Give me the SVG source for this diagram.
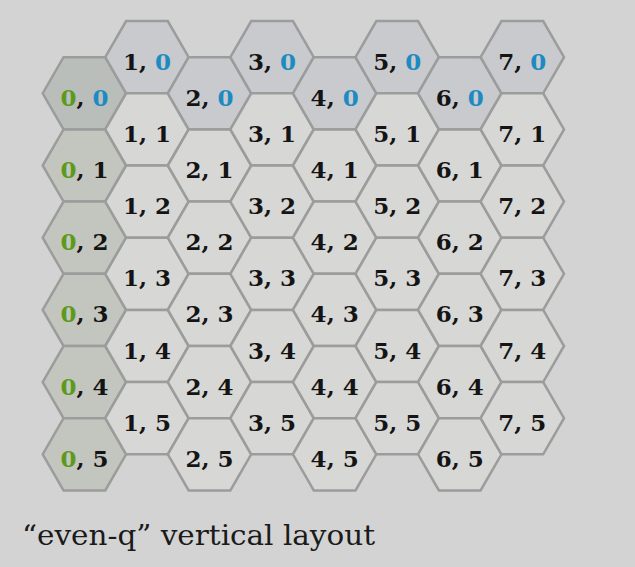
<svg xmlns="http://www.w3.org/2000/svg" xmlns:xlink="http://www.w3.org/1999/xlink" width="635" height="567" viewBox="0 0 635 567">
<style>
.h{fill:#d7d7d5;stroke:#9c9c9c;stroke-width:2.5}
.q{fill:#c3c6be}
.r{fill:#c8cacd}
.qr{fill:#babebb}
.t{font-family:"DejaVu Serif","Liberation Serif",serif;font-weight:bold;font-size:23px;fill:#141414;text-anchor:middle}
.g{fill:#5c9a1c}
.b{fill:#1d8bc2}
.title{font-family:"DejaVu Serif","Liberation Serif",serif;font-size:28px;fill:#1a1a1a}
</style>
<defs>
<polygon id="hex" points="-41.7,0 -20.85,-36.1 20.85,-36.1 41.7,0 20.85,36.1 -20.85,36.1"/>
</defs>
<rect width="635" height="567" fill="#d3d3d3"/>
<g id="hexes">
<g id="h0_0" transform="translate(84.4,93.3)"><use xlink:href="#hex" class="h qr"/><text class="t" y="12.5"><tspan class="g">0</tspan>, <tspan class="b">0</tspan></text></g>
<g id="h0_1" transform="translate(84.4,165.5)"><use xlink:href="#hex" class="h q"/><text class="t" y="12.5"><tspan class="g">0</tspan>, 1</text></g>
<g id="h0_2" transform="translate(84.4,237.7)"><use xlink:href="#hex" class="h q"/><text class="t" y="12.5"><tspan class="g">0</tspan>, 2</text></g>
<g id="h0_3" transform="translate(84.4,309.9)"><use xlink:href="#hex" class="h q"/><text class="t" y="12.5"><tspan class="g">0</tspan>, 3</text></g>
<g id="h0_4" transform="translate(84.4,382.1)"><use xlink:href="#hex" class="h q"/><text class="t" y="12.5"><tspan class="g">0</tspan>, 4</text></g>
<g id="h0_5" transform="translate(84.4,454.3)"><use xlink:href="#hex" class="h q"/><text class="t" y="12.5"><tspan class="g">0</tspan>, 5</text></g>

<g id="h1_0" transform="translate(146.96,57.2)"><use xlink:href="#hex" class="h r"/><text class="t" y="12.5">1, <tspan class="b">0</tspan></text></g>
<g id="h1_1" transform="translate(146.96,129.4)"><use xlink:href="#hex" class="h"/><text class="t" y="12.5">1, 1</text></g>
<g id="h1_2" transform="translate(146.96,201.6)"><use xlink:href="#hex" class="h"/><text class="t" y="12.5">1, 2</text></g>
<g id="h1_3" transform="translate(146.96,273.8)"><use xlink:href="#hex" class="h"/><text class="t" y="12.5">1, 3</text></g>
<g id="h1_4" transform="translate(146.96,346)"><use xlink:href="#hex" class="h"/><text class="t" y="12.5">1, 4</text></g>
<g id="h1_5" transform="translate(146.96,418.2)"><use xlink:href="#hex" class="h"/><text class="t" y="12.5">1, 5</text></g>

<g id="h2_0" transform="translate(209.52,93.3)"><use xlink:href="#hex" class="h r"/><text class="t" y="12.5">2, <tspan class="b">0</tspan></text></g>
<g id="h2_1" transform="translate(209.52,165.5)"><use xlink:href="#hex" class="h"/><text class="t" y="12.5">2, 1</text></g>
<g id="h2_2" transform="translate(209.52,237.7)"><use xlink:href="#hex" class="h"/><text class="t" y="12.5">2, 2</text></g>
<g id="h2_3" transform="translate(209.52,309.9)"><use xlink:href="#hex" class="h"/><text class="t" y="12.5">2, 3</text></g>
<g id="h2_4" transform="translate(209.52,382.1)"><use xlink:href="#hex" class="h"/><text class="t" y="12.5">2, 4</text></g>
<g id="h2_5" transform="translate(209.52,454.3)"><use xlink:href="#hex" class="h"/><text class="t" y="12.5">2, 5</text></g>

<g id="h3_0" transform="translate(272.08,57.2)"><use xlink:href="#hex" class="h r"/><text class="t" y="12.5">3, <tspan class="b">0</tspan></text></g>
<g id="h3_1" transform="translate(272.08,129.4)"><use xlink:href="#hex" class="h"/><text class="t" y="12.5">3, 1</text></g>
<g id="h3_2" transform="translate(272.08,201.6)"><use xlink:href="#hex" class="h"/><text class="t" y="12.5">3, 2</text></g>
<g id="h3_3" transform="translate(272.08,273.8)"><use xlink:href="#hex" class="h"/><text class="t" y="12.5">3, 3</text></g>
<g id="h3_4" transform="translate(272.08,346)"><use xlink:href="#hex" class="h"/><text class="t" y="12.5">3, 4</text></g>
<g id="h3_5" transform="translate(272.08,418.2)"><use xlink:href="#hex" class="h"/><text class="t" y="12.5">3, 5</text></g>

<g id="h4_0" transform="translate(334.64,93.3)"><use xlink:href="#hex" class="h r"/><text class="t" y="12.5">4, <tspan class="b">0</tspan></text></g>
<g id="h4_1" transform="translate(334.64,165.5)"><use xlink:href="#hex" class="h"/><text class="t" y="12.5">4, 1</text></g>
<g id="h4_2" transform="translate(334.64,237.7)"><use xlink:href="#hex" class="h"/><text class="t" y="12.5">4, 2</text></g>
<g id="h4_3" transform="translate(334.64,309.9)"><use xlink:href="#hex" class="h"/><text class="t" y="12.5">4, 3</text></g>
<g id="h4_4" transform="translate(334.64,382.1)"><use xlink:href="#hex" class="h"/><text class="t" y="12.5">4, 4</text></g>
<g id="h4_5" transform="translate(334.64,454.3)"><use xlink:href="#hex" class="h"/><text class="t" y="12.5">4, 5</text></g>

<g id="h5_0" transform="translate(397.2,57.2)"><use xlink:href="#hex" class="h r"/><text class="t" y="12.5">5, <tspan class="b">0</tspan></text></g>
<g id="h5_1" transform="translate(397.2,129.4)"><use xlink:href="#hex" class="h"/><text class="t" y="12.5">5, 1</text></g>
<g id="h5_2" transform="translate(397.2,201.6)"><use xlink:href="#hex" class="h"/><text class="t" y="12.5">5, 2</text></g>
<g id="h5_3" transform="translate(397.2,273.8)"><use xlink:href="#hex" class="h"/><text class="t" y="12.5">5, 3</text></g>
<g id="h5_4" transform="translate(397.2,346)"><use xlink:href="#hex" class="h"/><text class="t" y="12.5">5, 4</text></g>
<g id="h5_5" transform="translate(397.2,418.2)"><use xlink:href="#hex" class="h"/><text class="t" y="12.5">5, 5</text></g>

<g id="h6_0" transform="translate(459.76,93.3)"><use xlink:href="#hex" class="h r"/><text class="t" y="12.5">6, <tspan class="b">0</tspan></text></g>
<g id="h6_1" transform="translate(459.76,165.5)"><use xlink:href="#hex" class="h"/><text class="t" y="12.5">6, 1</text></g>
<g id="h6_2" transform="translate(459.76,237.7)"><use xlink:href="#hex" class="h"/><text class="t" y="12.5">6, 2</text></g>
<g id="h6_3" transform="translate(459.76,309.9)"><use xlink:href="#hex" class="h"/><text class="t" y="12.5">6, 3</text></g>
<g id="h6_4" transform="translate(459.76,382.1)"><use xlink:href="#hex" class="h"/><text class="t" y="12.5">6, 4</text></g>
<g id="h6_5" transform="translate(459.76,454.3)"><use xlink:href="#hex" class="h"/><text class="t" y="12.5">6, 5</text></g>

<g id="h7_0" transform="translate(522.32,57.2)"><use xlink:href="#hex" class="h r"/><text class="t" y="12.5">7, <tspan class="b">0</tspan></text></g>
<g id="h7_1" transform="translate(522.32,129.4)"><use xlink:href="#hex" class="h"/><text class="t" y="12.5">7, 1</text></g>
<g id="h7_2" transform="translate(522.32,201.6)"><use xlink:href="#hex" class="h"/><text class="t" y="12.5">7, 2</text></g>
<g id="h7_3" transform="translate(522.32,273.8)"><use xlink:href="#hex" class="h"/><text class="t" y="12.5">7, 3</text></g>
<g id="h7_4" transform="translate(522.32,346)"><use xlink:href="#hex" class="h"/><text class="t" y="12.5">7, 4</text></g>
<g id="h7_5" transform="translate(522.32,418.2)"><use xlink:href="#hex" class="h"/><text class="t" y="12.5">7, 5</text></g>
</g>
<g id="caption">
<text class="title" x="22" y="545" textLength="353" lengthAdjust="spacingAndGlyphs">“even-q” vertical layout</text>
</g>
</svg>
